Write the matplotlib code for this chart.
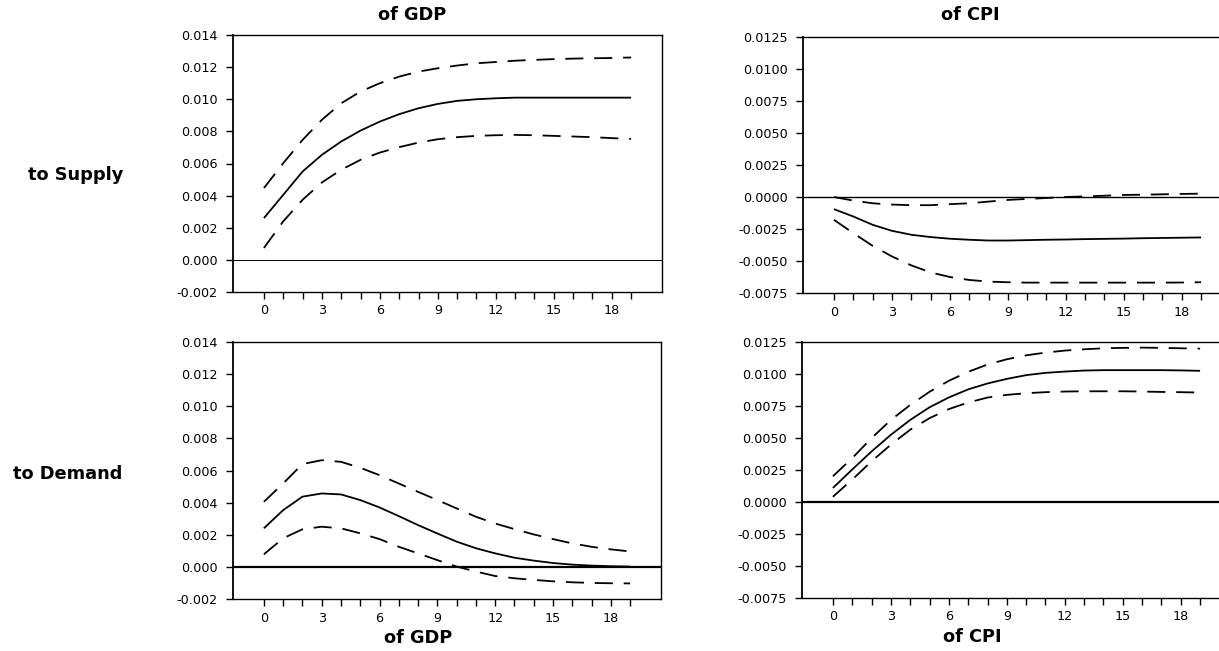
import numpy as np
import matplotlib
matplotlib.use("Agg")
import matplotlib.pyplot as plt

# Impulse responses over 20 periods (0..19): point estimate with lower/upper bands
periods = np.arange(20)

gdp_supply = [0.0026, 0.00405, 0.0055, 0.00654, 0.00737, 0.00805, 0.00861, 0.00907, 0.00944, 0.00971,
              0.0099, 0.0100, 0.01006, 0.0101, 0.0101, 0.0101, 0.0101, 0.0101, 0.0101, 0.0101]
gdp_supply_hi = [0.00447, 0.00602, 0.00747, 0.00872, 0.00975, 0.01048, 0.0110, 0.01141, 0.01172, 0.01193,
                 0.0121, 0.01224, 0.01232, 0.0124, 0.01245, 0.0125, 0.01253, 0.01255, 0.01257, 0.0126]
gdp_supply_lo = [0.00074, 0.0024, 0.00374, 0.00482, 0.00561, 0.00623, 0.00668, 0.00702, 0.0073, 0.00751,
                 0.00764, 0.00772, 0.00776, 0.00778, 0.00776, 0.00772, 0.00768, 0.00764, 0.00758, 0.00753]

cpi_supply = [-0.00095, -0.00152, -0.00217, -0.00264, -0.00295, -0.00313, -0.00326, -0.00334, -0.0034, -0.0034,
              -0.00337, -0.00334, -0.00332, -0.00329, -0.00327, -0.00325, -0.00322, -0.0032, -0.00318, -0.00316]
cpi_supply_hi = [0.0, -0.00028, -0.00049, -0.00059, -0.00064, -0.00064, -0.00056, -0.00049, -0.00036, -0.00023,
                 -0.00015, -0.00008, 0.0, 0.00005, 0.0001, 0.00016, 0.00018, 0.00021, 0.00024, 0.00026]
cpi_supply_lo = [-0.00178, -0.00282, -0.00381, -0.00464, -0.00534, -0.00589, -0.00625, -0.00648, -0.00661, -0.00666,
                 -0.00669, -0.00669, -0.00669, -0.00669, -0.00669, -0.00669, -0.00669, -0.00669, -0.00668, -0.00666]

gdp_demand = [0.0024, 0.00353, 0.00437, 0.00457, 0.00451, 0.00416, 0.0037, 0.00316, 0.0026, 0.00208,
              0.00157, 0.00116, 0.00084, 0.00057, 0.00039, 0.00024, 0.00014, 0.00008, 0.00004, 0.00002]
gdp_demand_hi = [0.00405, 0.00519, 0.0064, 0.00664, 0.00654, 0.00617, 0.00571, 0.00519, 0.00467, 0.00416,
                 0.00364, 0.00312, 0.0027, 0.00235, 0.00202, 0.00173, 0.00146, 0.00125, 0.00109, 0.00096]
gdp_demand_lo = [0.00078, 0.00178, 0.00234, 0.0025, 0.0024, 0.00209, 0.00173, 0.00125, 0.00084, 0.00042,
                 0.00002, -0.00029, -0.00057, -0.00071, -0.00081, -0.0009, -0.00096, -0.001, -0.00102, -0.00103]

cpi_demand = [0.0011, 0.00254, 0.00395, 0.00525, 0.00641, 0.0074, 0.00817, 0.0088, 0.00926, 0.00962,
              0.00991, 0.01009, 0.01019, 0.01027, 0.0103, 0.0103, 0.0103, 0.0103, 0.01028, 0.01025]
cpi_demand_hi = [0.00201, 0.00343, 0.00499, 0.00641, 0.00758, 0.00861, 0.00947, 0.01017, 0.01074, 0.01115,
                 0.01146, 0.01167, 0.01183, 0.01193, 0.01201, 0.01204, 0.01206, 0.01204, 0.01201, 0.01198]
cpi_demand_lo = [0.00041, 0.00175, 0.00318, 0.00448, 0.00565, 0.00655, 0.00726, 0.00777, 0.00816, 0.00837,
                 0.0085, 0.00858, 0.00863, 0.00865, 0.00865, 0.00865, 0.00863, 0.0086, 0.00858, 0.00855]

gdp_yticks = [-0.002, 0.000, 0.002, 0.004, 0.006, 0.008, 0.010, 0.012, 0.014]
cpi_yticks = [-0.0075, -0.0050, -0.0025, 0.0000, 0.0025, 0.0050, 0.0075, 0.0100, 0.0125]
xtick_labels = [0, 3, 6, 9, 12, 15, 18]

col_titles = ["of GDP", "of CPI"]
row_titles = ["to Supply", "to Demand"]

W, H = 1219, 651
fig = plt.figure(figsize=(W / 100, H / 100), dpi=100)
fig.patch.set_facecolor("white")

tick_font = dict(family="DejaVu Sans", size=9.2)
head_font = dict(family="DejaVu Sans", weight="bold", size=12.8)


def px_axes(left, right, top, bottom):
    return fig.add_axes([left / W, 1 - bottom / H, (right - left) / W, (bottom - top) / H])


def panel(ax, mid, lo, hi, yticks, fmt, zero_lw, open_right=False):
    ax.plot(periods, mid, color="black", lw=1.3, solid_capstyle="butt")
    for band in (lo, hi):
        ax.plot(periods, band, color="black", lw=1.3, dashes=(10, 6))
    ax.axhline(0.0, color="black", lw=zero_lw, zorder=1)
    ax.set_xlim(-1.6, 20.6)
    ax.set_ylim(yticks[0], yticks[-1])
    ax.set_yticks(yticks)
    ax.set_yticklabels([fmt.format(v).replace("-0.0000", "0.0000") for v in yticks], **tick_font)
    ax.set_xticks(periods)
    ax.set_xticklabels([str(p) if p in xtick_labels else "" for p in periods], **tick_font)
    ax.tick_params(axis="both", direction="out", length=5, width=1.0, colors="black")
    ax.tick_params(axis="y", pad=6)
    ax.tick_params(axis="x", pad=4)
    for s in ax.spines.values():
        s.set_linewidth(1.0)
        s.set_color("black")
    ax.spines["left"].set_linewidth(1.3)
    if open_right:
        ax.spines["right"].set_visible(False)


ax_tl = px_axes(233, 662, 35, 292)
panel(ax_tl, gdp_supply, gdp_supply_lo, gdp_supply_hi, gdp_yticks, "{:.3f}", 0.7)

ax_tr = px_axes(803, 1232, 37, 293)
panel(ax_tr, cpi_supply, cpi_supply_lo, cpi_supply_hi, cpi_yticks, "{:.4f}", 1.0, open_right=True)

ax_bl = px_axes(233, 661, 342, 599)
panel(ax_bl, gdp_demand, gdp_demand_lo, gdp_demand_hi, gdp_yticks, "{:.3f}", 1.6)

ax_br = px_axes(802, 1231, 342, 598)
panel(ax_br, cpi_demand, cpi_demand_lo, cpi_demand_hi, cpi_yticks, "{:.4f}", 1.6, open_right=True)

# Column headings above and below, row headings on the left
fig.text(412 / W, 1 - 15 / H, col_titles[0], ha="center", va="center", **head_font)
fig.text(970 / W, 1 - 15 / H, col_titles[1], ha="center", va="center", **head_font)
fig.text(418 / W, 1 - 638 / H, col_titles[0], ha="center", va="center", **head_font)
fig.text(972 / W, 1 - 637 / H, col_titles[1], ha="center", va="center", **head_font)
fig.text(76 / W, 1 - 175 / H, row_titles[0], ha="center", va="center", **head_font)
fig.text(68 / W, 1 - 474 / H, row_titles[1], ha="center", va="center", **head_font)

fig.savefig("out.png", dpi=100, facecolor="white")
